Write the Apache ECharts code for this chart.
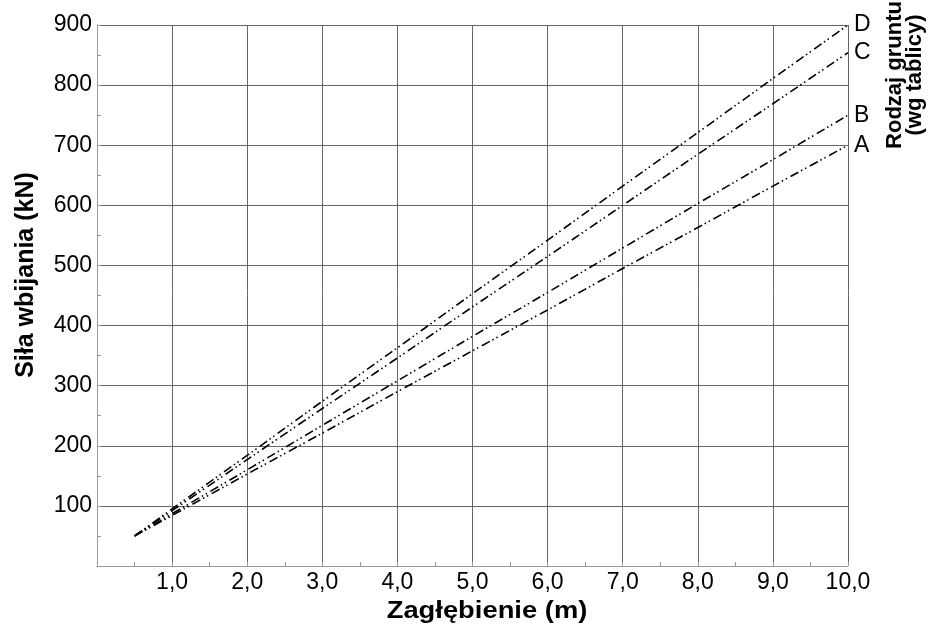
<!DOCTYPE html>
<html>
<head>
<meta charset="utf-8">
<script src="https://cdn.jsdelivr.net/npm/echarts@6/dist/echarts.min.js"></script>
<style>html,body{margin:0;padding:0;background:#fff}#c{width:935px;height:630px}</style>
</head>
<body>
<div id="c"></div>
<script>
// depth (m)
const depth = [0.5, 1, 2, 3, 4, 5, 6, 7, 8, 9, 10];
// driving force (kN) per soil type
const soilA = [50, 84, 153, 221, 290, 358, 426, 495, 563, 632, 700];
const soilB = [50, 87, 160, 234, 308, 382, 455, 529, 603, 676, 750];
const soilC = [50, 92, 177, 262, 346, 431, 515, 600, 685, 769, 854];
const soilD = [50, 95, 184, 274, 363, 453, 542, 632, 721, 811, 900];
const seriesNames = ['A', 'B', 'C', 'D'];
const seriesValues = [soilA, soilB, soilC, soilD];
const xTitle = 'Zagłębienie (m)';
const yTitle = 'Siła wbijania (kN)';
const sideTitle = 'Rodzaj gruntu\n(wg tablicy)';

const FONT = '"Liberation Sans", Arial, sans-serif';
const chart = echarts.init(document.getElementById('c'));

const series = seriesNames.map((n, i) => ({
  name: n,
  type: 'line',
  data: depth.map((x, j) => [x, seriesValues[i][j]]),
  showSymbol: false,
  symbol: 'none',
  silent: true,
  animation: false,
  lineStyle: { color: '#000', width: 1.6, type: [9, 3, 1.5, 3, 1.5, 4] },
  endLabel: { show: true, formatter: '{a}', distance: 6, fontSize: 23, color: '#000', fontFamily: FONT }
}));

chart.setOption({
  animation: false,
  backgroundColor: '#fff',
  grid: { left: 97, right: 87, top: 25, bottom: 64, containLabel: false },
  xAxis: {
    type: 'value', min: 0, max: 10, interval: 1,
    axisLine: { show: true, lineStyle: { color: '#999', width: 1 } },
    axisTick: { show: true, inside: true, length: 4, lineStyle: { color: '#999' } },
    minorTick: { show: true, splitNumber: 2, length: 4, lineStyle: { color: '#999' } },
    splitLine: { show: true, lineStyle: { color: '#666', width: 1 } },
    axisLabel: {
      color: '#000', fontSize: 23, fontFamily: FONT, margin: 5,
      formatter: v => v === 0 ? '' : v.toFixed(1).replace('.', ',')
    }
  },
  yAxis: {
    type: 'value', min: 0, max: 900, interval: 100,
    axisLine: { show: true, lineStyle: { color: '#999', width: 1 } },
    axisTick: { show: true, inside: true, length: 4, lineStyle: { color: '#999' } },
    minorTick: { show: true, splitNumber: 2, length: 4, lineStyle: { color: '#999' } },
    splitLine: { show: true, lineStyle: { color: '#666', width: 1 } },
    axisLabel: {
      color: '#000', fontSize: 23, fontFamily: FONT, margin: 5,
      formatter: v => v === 0 ? '' : String(v)
    }
  },
  graphic: [
    { type: 'text', x: 26, y: 275, rotation: Math.PI / 2,
      style: { text: yTitle, font: 'bold 25px ' + FONT, fill: '#000',
               align: 'center', verticalAlign: 'middle', textAlign: 'center', textVerticalAlign: 'middle' } },
    { type: 'text', x: 487, y: 611, scaleX: 1.14,
      style: { text: xTitle, font: 'bold 24px ' + FONT, fill: '#000',
               align: 'center', verticalAlign: 'middle', textAlign: 'center', textVerticalAlign: 'middle' } },
    { type: 'text', x: 905, y: 75, rotation: Math.PI / 2,
      style: { text: sideTitle, font: 'bold 22px ' + FONT, fill: '#000', lineHeight: 20,
               align: 'center', verticalAlign: 'middle', textAlign: 'center', textVerticalAlign: 'middle' } }
  ],
  series: series
});
</script>
</body>
</html>
